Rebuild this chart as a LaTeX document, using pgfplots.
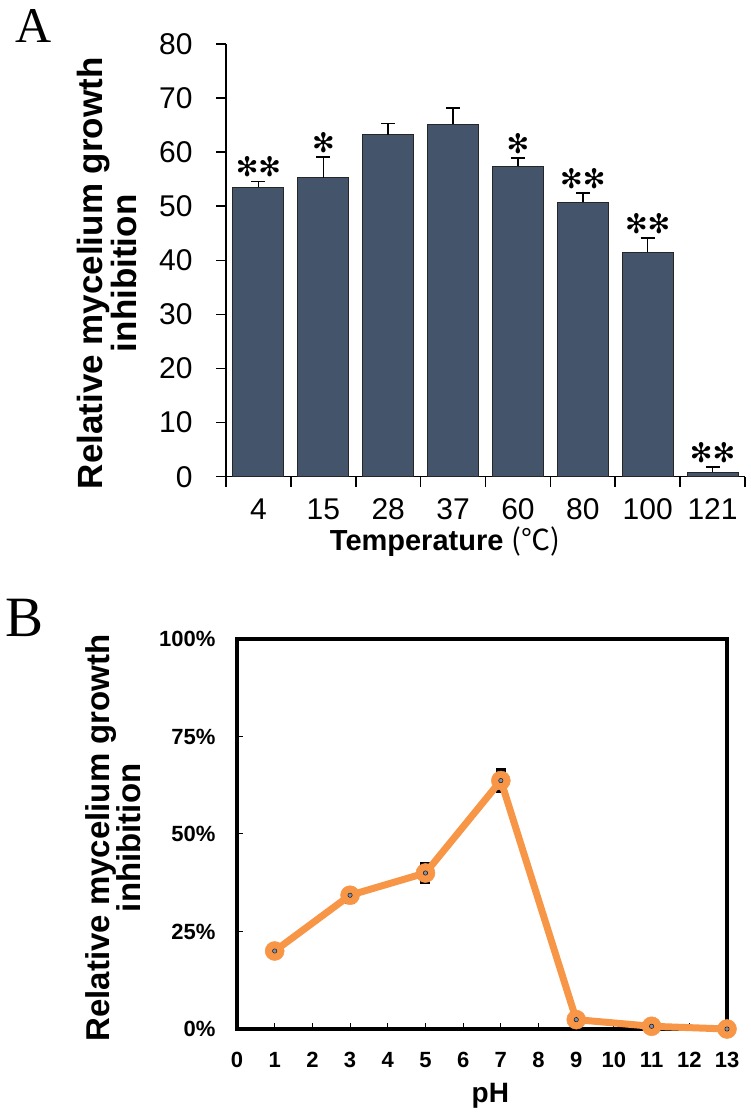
\documentclass[border=0pt]{standalone}
\usepackage{pgfplots}
\pgfplotsset{compat=1.18}
\usepackage{fontspec}
\setmainfont{Liberation Sans}
\newfontfamily\serif{Liberation Serif}
\newfontfamily\symb{DejaVu Sans}
\newfontfamily\cjk{Noto Sans CJK SC}
\definecolor{barcol}{HTML}{44546A}
\definecolor{orng}{HTML}{F79646}
\definecolor{dotcol}{HTML}{7F8FA9}

\pgfplotstableread{
x y e
0 53.5 1.1
1 55.3 3.8
2 63.2 2.1
3 65.2 3.0
4 57.4 1.5
5 50.7 1.8
6 41.5 2.6
7 0.8 1.0
}\tempdata

\pgfplotstableread{
x y e
1 0.200 0.010
3 0.343 0.022
5 0.400 0.029
7 0.637 0.031
9 0.024 0.004
11 0.007 0.003
13 0.000 0.002
}\phdata

\begin{document}
\begin{tikzpicture}
\useasboundingbox (0pt,0pt) rectangle (750pt,1115pt);
\node[font=\serif\fontsize{50}{60}\selectfont, anchor=base west, inner sep=0pt] at (15pt,1072pt) {A};
\node[font=\serif\fontsize{57}{66}\selectfont, anchor=base west, inner sep=0pt] at (5pt,478pt) {B};

% panel A: temperature
\begin{axis}[
  at={(226pt,638.3pt)}, anchor=south west, scale only axis,
  width=519pt, height=432.7pt,
  xmin=-0.5, xmax=7.5, ymin=0, ymax=80,
  axis x line*=bottom, axis y line*=left,
  axis line style={line width=1.6pt, -},
  tick align=outside, major tick length=10pt,
  tick style={line width=1.6pt, black},
  xtick={-0.5,0.5,...,7.5}, x tick label as interval,
  xticklabels={4,15,28,37,60,80,100,121},
  ytick={0,10,...,80},
  tick label style={font=\fontsize{30}{36}\selectfont},
  xticklabel style={anchor=base, yshift=-33pt, inner sep=0pt},
  yticklabel style={xshift=-20pt},
  /pgf/number format/assume math mode=true,
  xlabel={Temperature {\cjk\mdseries (℃)}},
  xlabel style={at={(axis description cs:0.422,-0.171)}, anchor=base,
    inner sep=0pt, font=\bfseries\fontsize{29}{34}\selectfont},
  ylabel={Relative mycelium growth\\inhibition},
  ylabel style={at={(axis description cs:-0.23,0.47)}, anchor=center,
    align=center, font=\bfseries\fontsize{35}{32}\selectfont},
]
\addplot[ybar, bar width=51pt, fill=barcol, draw=black!85, line width=1pt,
  error bars/.cd, y dir=plus, y explicit,
  error bar style={line width=1.6pt, black},
  error mark options={rotate=90, mark size=7pt, line width=1.6pt, black}]
  table[x=x, y=y, y error=e] {\tempdata};
\addplot[draw=none, mark=none, nodes near coords, point meta=explicit symbolic,
  every node near coord/.append style={font=\symb\fontsize{27}{27}\selectfont,
    anchor=south, inner sep=0pt, yshift=4pt}]
  coordinates {(0,54.6)[✻✻] (1,59.1)[✻] (4,58.9)[✻] (5,52.5)[✻✻] (6,44.1)[✻✻] (7,1.8)[✻✻]};
\end{axis}

% panel B: pH
\begin{axis}[
  at={(237pt,86pt)}, anchor=south west, scale only axis,
  width=490pt, height=390pt,
  xmin=0, xmax=13, ymin=0, ymax=1, clip=false,
  axis line style={line width=3.5pt},
  tick align=inside, major tick length=6pt,
  tick style={line width=1pt, black},
  xtick={0,...,13}, ytick={0,0.25,0.5,0.75,1},
  yticklabels={0\%,25\%,50\%,75\%,100\%},
  xtick pos=bottom, ytick pos=left,
  tick label style={font=\bfseries\fontsize{22}{26}\selectfont},
  xticklabel style={yshift=-20pt},
  yticklabel style={xshift=-18pt},
  /pgf/number format/assume math mode=true,
  xlabel={pH},
  xlabel style={at={(axis description cs:0.517,0)}, anchor=base, yshift=-73pt,
    font=\bfseries\fontsize{28}{32}\selectfont},
  ylabel={Relative mycelium growth\\inhibition},
  ylabel style={at={(axis description cs:-0.253,0.49)}, anchor=center,
    align=center, font=\bfseries\fontsize{33}{31}\selectfont},
]
\addplot[draw=none, mark=none, error bars/.cd, y dir=both, y explicit,
  error bar style={line width=10pt, black}, error mark=none]
  table[x=x, y=y, y error=e] {\phdata};
\addplot[orng, line width=7pt, mark=*, mark size=9.5pt,
  mark options={fill=orng, draw=orng, line width=0.5pt}]
  table[x=x, y=y] {\phdata};
\addplot[only marks, mark=*, mark size=2.2pt, mark options={fill=dotcol, draw=none}]
  table[x=x, y=y] {\phdata};
\end{axis}
\end{tikzpicture}
\end{document}
